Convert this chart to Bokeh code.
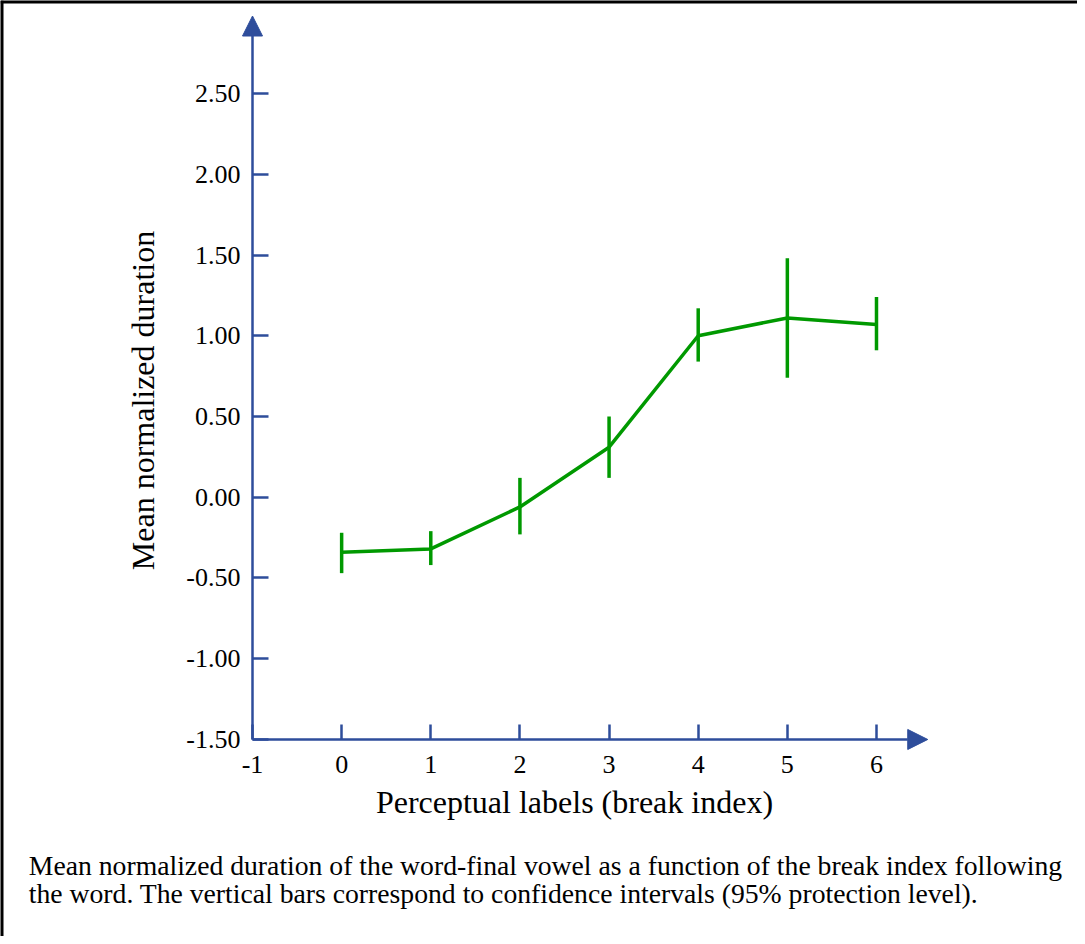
import math
from bokeh.plotting import figure
from bokeh.models import (Range1d, FixedTicker, CustomJSTickFormatter, Arrow, NormalHead,
                          ColumnDataSource, Span)
from bokeh.core.properties import value
from bokeh.embed import file_html
from bokeh.resources import INLINE

# ---- data ----
break_index = [0, 1, 2, 3, 4, 5, 6]
mean_dur = [-0.34, -0.32, -0.06, 0.31, 1.00, 1.11, 1.07]
ci_low = [-0.47, -0.42, -0.23, 0.12, 0.84, 0.74, 0.91]
ci_high = [-0.22, -0.21, 0.12, 0.50, 1.17, 1.48, 1.24]
x_ticks = [-1, 0, 1, 2, 3, 4, 5, 6]
y_ticks = [-1.5, -1.0, -0.5, 0.0, 0.5, 1.0, 1.5, 2.0, 2.5]
x_label = "Perceptual labels (break index)"
y_label = "Mean normalized duration"
caption = ["Mean normalized duration of the word-final vowel as a function of the break index following",
           "the word. The vertical bars correspond to confidence intervals (95% protection level)."]

BLUE = "#2E4D9B"
GREEN = "#009900"
FONT = "Liberation Serif"

X0, Y0 = -1.0, -1.5          # axis origin
X_TIP, Y_TIP = 6.575, 2.98   # arrow tips
XR = (-3.827, 8.255)
YR = (-2.720, 3.076)

W, H = 1077, 936
p = figure(width=W, height=H, output_backend="svg", toolbar_location=None,
           x_range=Range1d(*XR), y_range=Range1d(*YR),
           min_border=0)
p.grid.visible = False
p.outline_line_color = None
p.background_fill_color = "white"
p.border_fill_color = "white"

for ax in (p.xaxis[0], p.yaxis[0]):
    ax.axis_line_color = None
    ax.major_tick_line_color = BLUE
    ax.major_tick_line_width = 2.5
    ax.minor_tick_line_color = None
    ax.major_tick_out = 0
    ax.major_label_text_font = FONT
    ax.major_label_text_color = "black"
    ax.major_label_text_font_size = "26px"

p.xaxis.fixed_location = Y0
p.xaxis.ticker = FixedTicker(ticks=x_ticks)
p.xaxis.formatter = CustomJSTickFormatter(code="return tick.toFixed(0);")
p.xaxis.major_tick_in = 15
p.xaxis.major_label_standoff = 17

p.yaxis.fixed_location = X0
p.yaxis.ticker = FixedTicker(ticks=y_ticks)
p.yaxis.formatter = CustomJSTickFormatter(code="return tick.toFixed(2);")
p.yaxis.major_tick_in = 16
p.yaxis.major_label_standoff = 12

# page frame (top and left rules)
p.add_layout(Span(location=XR[0], dimension="height", line_color="black", line_width=6))
p.add_layout(Span(location=YR[1], dimension="width", line_color="black", line_width=6))

# axis lines with arrow heads
p.add_layout(Arrow(end=NormalHead(size=20, fill_color=BLUE, line_color=BLUE, line_width=1),
                   x_start=X0, y_start=Y0, x_end=X_TIP, y_end=Y0,
                   line_color=BLUE, line_width=2.5))
p.add_layout(Arrow(end=NormalHead(size=20, fill_color=BLUE, line_color=BLUE, line_width=1),
                   x_start=X0, y_start=Y0, x_end=X0, y_end=Y_TIP,
                   line_color=BLUE, line_width=2.5))

src = ColumnDataSource(dict(x=break_index, y=mean_dur, lo=ci_low, hi=ci_high))
p.line("x", "y", source=src, line_color=GREEN, line_width=3.5)
p.segment(x0="x", y0="lo", x1="x", y1="hi", source=src, line_color=GREEN, line_width=3.5)

# axis titles
p.text(x=[2.612], y=[-1.890], text=[x_label], text_font=value(FONT),
       text_font_size=value("32px"), text_align="center", text_baseline="middle",
       text_color="black")
p.text(x=[-2.223], y=[0.599], text=[y_label], text_font=value(FONT),
       text_font_size=value("32px"), text_align="center", text_baseline="middle",
       text_color="black", angle=math.pi / 2)

# caption
p.text(x=[-3.51, -3.51], y=[-2.282, -2.455], text=caption, text_font=value(FONT),
       text_font_size=value("27.7px"), text_align="left", text_baseline="alphabetic",
       text_color="black")

open("out.html", "w").write(file_html(p, INLINE))
